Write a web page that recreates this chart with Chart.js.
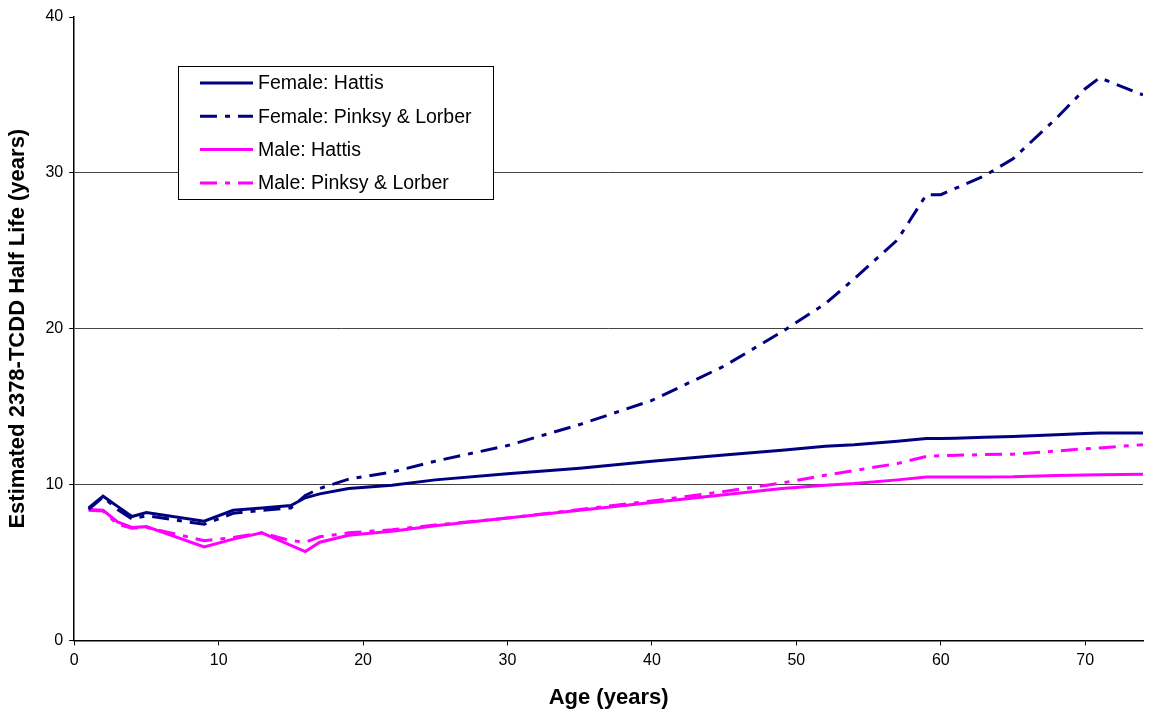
<!DOCTYPE html>
<html>
<head>
<meta charset="utf-8">
<script src="https://cdn.jsdelivr.net/npm/chart.js@4/dist/chart.umd.min.js"></script>
<style>
  html, body { margin: 0; padding: 0; background: #fff; }
  #wrap { width: 1151px; height: 711px; }
</style>
</head>
<body>
<div id="wrap"><canvas id="halfLife"></canvas></div>
<script>
// ages (years) and estimated half life values
const ages = [1, 2, 3, 4, 5, 9, 11, 13, 15, 16, 17, 19, 22, 25, 30, 35, 40, 45, 49, 52, 54, 57, 59, 60, 61, 63, 65, 68, 70, 71, 74]
const femaleHattis = [8.5, 9.25, 8.6, 7.95, 8.2, 7.65, 8.35, 8.5, 8.65, 9.15, 9.4, 9.75, 9.95, 10.3, 10.7, 11.05, 11.5, 11.9, 12.2, 12.45, 12.55, 12.78, 12.95, 12.95, 12.97, 13.03, 13.08, 13.2, 13.27, 13.3, 13.3]
const femalePinsky = [8.4, 9.2, 8.4, 7.8, 8.0, 7.45, 8.15, 8.35, 8.5, 9.3, 9.75, 10.35, 10.8, 11.5, 12.5, 13.85, 15.4, 17.6, 19.8, 21.6, 23.2, 25.7, 28.6, 28.6, 29.0, 29.8, 30.9, 33.5, 35.4, 36.1, 35.0]
const maleHattis = [8.4, 8.35, 7.6, 7.25, 7.3, 6.0, 6.5, 6.9, 6.1, 5.7, 6.3, 6.75, 7.0, 7.35, 7.85, 8.35, 8.85, 9.35, 9.75, 9.95, 10.06, 10.3, 10.48, 10.49, 10.49, 10.49, 10.5, 10.58, 10.62, 10.63, 10.66]
const malePinsky = [8.35, 8.3, 7.45, 7.2, 7.25, 6.4, 6.6, 6.9, 6.4, 6.3, 6.65, 6.9, 7.1, 7.4, 7.85, 8.4, 8.95, 9.55, 10.1, 10.6, 10.9, 11.35, 11.8, 11.85, 11.88, 11.92, 11.95, 12.15, 12.3, 12.35, 12.56]

const seriesLabels = ['Female: Hattis', 'Female: Pinksy & Lorber', 'Male: Hattis', 'Male: Pinksy & Lorber']
const xTicks = [0, 10, 20, 30, 40, 50, 60, 70]
const yTicks = [0, 10, 20, 30, 40]

const NAVY = '#000080'
const PINK = '#ff00ff'
const DASH_DOT = [17, 8, 5, 8]
const FONT = '"Liberation Sans", Arial, sans-serif'

const toPoints = (vals) => ages.map((a, i) => ({ x: a, y: vals[i] }))

const makeSet = (label, vals, color, dash) => ({
  label,
  data: toPoints(vals),
  borderColor: color,
  backgroundColor: color,
  borderWidth: 3,
  borderDash: dash,
  pointRadius: 0,
  tension: 0,
  fill: false
})

// legend box drawn inside the plot, like the original
const boxLegend = {
  id: 'boxLegend',
  afterDraw(chart) {
    const ctx = chart.ctx
    const x = 178, y = 66, w = 315, h = 133
    ctx.save()
    ctx.fillStyle = '#fff'
    ctx.fillRect(x, y, w, h)
    ctx.strokeStyle = '#000'
    ctx.lineWidth = 1
    ctx.strokeRect(x + 0.5, y + 0.5, w, h)
    ctx.font = '19.5px ' + FONT
    ctx.textBaseline = 'middle'
    chart.data.datasets.forEach((ds, i) => {
      const rowY = 83 + i * 33.3
      ctx.strokeStyle = ds.borderColor
      ctx.lineWidth = 3
      ctx.setLineDash(ds.borderDash || [])
      ctx.beginPath()
      ctx.moveTo(200, rowY)
      ctx.lineTo(253, rowY)
      ctx.stroke()
      ctx.setLineDash([])
      ctx.fillStyle = '#000'
      ctx.fillText(ds.label, 258, rowY + 1)
    })
    ctx.restore()
  }
}

new Chart(document.getElementById('halfLife').getContext('2d'), {
  type: 'line',
  data: {
    datasets: [
      makeSet(seriesLabels[0], femaleHattis, NAVY, []),
      makeSet(seriesLabels[1], femalePinsky, NAVY, DASH_DOT),
      makeSet(seriesLabels[2], maleHattis, PINK, []),
      makeSet(seriesLabels[3], malePinsky, PINK, DASH_DOT)
    ]
  },
  options: {
    responsive: true,
    maintainAspectRatio: false,
    animation: false,
    layout: { padding: { top: 17, right: 8, left: 5, bottom: 0 } },
    plugins: {
      legend: { display: false },
      tooltip: { enabled: false }
    },
    scales: {
      x: {
        type: 'linear',
        min: 0,
        max: 74,
        afterBuildTicks: (axis) => { axis.ticks = xTicks.map(v => ({ value: v })) },
        ticks: {
          color: '#000',
          font: { family: FONT, size: 16 },
          padding: 6,
          maxRotation: 0
        },
        grid: { drawOnChartArea: false, drawTicks: true, tickLength: 5, tickColor: '#000' },
        border: { color: '#000', width: 1.5 },
        title: {
          display: true,
          text: 'Age (years)',
          color: '#000',
          font: { family: FONT, size: 22, weight: 'bold' },
          padding: { top: 8, bottom: 0 }
        }
      },
      y: {
        type: 'linear',
        min: 0,
        max: 40,
        afterBuildTicks: (axis) => { axis.ticks = yTicks.map(v => ({ value: v })) },
        ticks: {
          color: '#000',
          font: { family: FONT, size: 16 },
          padding: 6
        },
        grid: {
          color: (c) => (c.tick && (c.tick.value === 0 || c.tick.value === 40)) ? 'rgba(0,0,0,0)' : '#444',
          lineWidth: 1,
          drawTicks: true,
          tickLength: 5,
          tickColor: '#000'
        },
        border: { color: '#000', width: 1.5 },
        title: {
          display: true,
          text: 'Estimated 2378-TCDD Half Life (years)',
          color: '#000',
          font: { family: FONT, size: 22, weight: 'bold' },
          padding: { top: 0, bottom: 8 }
        }
      }
    }
  },
  plugins: [boxLegend]
})
</script>
</body>
</html>
